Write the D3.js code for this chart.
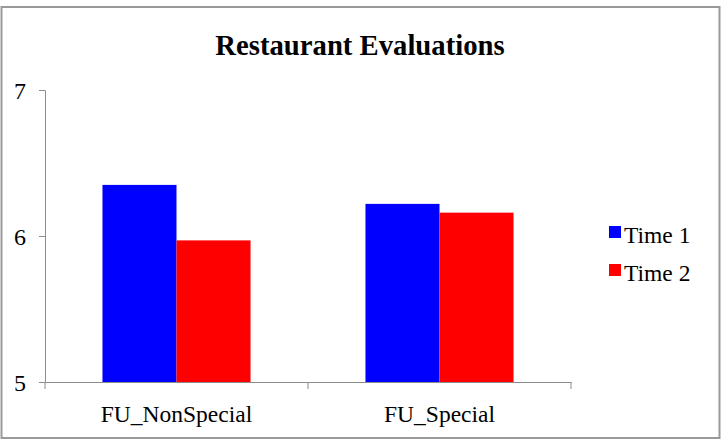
<!DOCTYPE html>
<html>
<head>
<meta charset="utf-8">
<script src="https://cdn.jsdelivr.net/npm/d3@7"></script>
<style>
  body { margin: 0; background: #fff; }
  svg text { font-family: "Liberation Serif", "Times New Roman", serif; fill: #000; }
</style>
</head>
<body>
<div id="chart"></div>
<script>
// chart data
const categories = ["FU_NonSpecial", "FU_Special"];
const seriesNames = ["Time 1", "Time 2"];
const time1 = [6.35, 6.22];
const time2 = [5.97, 6.16];
const yTicks = [5, 6, 7];
const colors = ["#0000ff", "#ff0000"];

const W = 728, H = 446;
const margin = { top: 90, left: 45, right: 157, bottom: 64 };
const width = W - margin.left - margin.right,
      height = H - margin.top - margin.bottom;
const grey = "#8c8c8c";

const svg = d3.select("#chart").append("svg")
  .attr("width", W)
  .attr("height", H);

// outer frame
svg.append("rect")
  .attr("x", 1.5).attr("y", 7)
  .attr("width", 718).attr("height", 431)
  .attr("fill", "none")
  .attr("stroke", "#999")
  .attr("stroke-width", 2);

svg.append("text")
  .attr("x", 360).attr("y", 55)
  .attr("text-anchor", "middle")
  .style("font-size", "28.7px")
  .style("font-weight", "bold")
  .text("Restaurant Evaluations");

const g = svg.append("g")
  .attr("transform", "translate(" + margin.left + "," + margin.top + ")");

const x0 = d3.scaleBand()
  .domain(categories)
  .range([0, width])
  .padding(0);

// bars take ~56% of each category band
const groupFrac = 0.563;
const x1 = d3.scaleBand()
  .domain(seriesNames)
  .range([0, x0.bandwidth() * groupFrac])
  .padding(0);

const y = d3.scaleLinear()
  .domain([5, 7])
  .range([height, 0]);

const rows = categories.map((c, i) => ({ cat: c, vals: [time1[i], time2[i]] }));

// bars
g.selectAll("g.cat")
  .data(rows)
  .enter().append("g")
  .attr("class", "cat")
  .attr("transform", d => "translate(" + (x0(d.cat) + x0.bandwidth() * (1 - groupFrac) / 2) + ",0)")
  .selectAll("rect")
  .data(d => d.vals.map((v, k) => ({ key: seriesNames[k], v: v, k: k })))
  .enter().append("rect")
  .attr("x", d => x1(d.key))
  .attr("width", x1.bandwidth())
  .attr("y", d => y(d.v))
  .attr("height", d => y(5) - y(d.v))
  .attr("fill", d => colors[d.k]);

// y axis
const yAxis = g.append("g")
  .call(d3.axisLeft(y).tickValues(yTicks).tickFormat(d3.format("d")).tickSize(6).tickSizeOuter(0));
yAxis.select(".domain").attr("stroke", grey);
yAxis.selectAll(".tick line").attr("stroke", grey);
yAxis.selectAll(".tick text")
  .style("font-family", "'Liberation Serif', serif")
  .style("font-size", "24px")
  .attr("x", -19)
  .attr("dy", "0.35em");

// x axis
const xAxis = g.append("g")
  .attr("transform", "translate(0," + height + ")")
  .call(d3.axisBottom(x0).tickSize(0).tickSizeOuter(0));
xAxis.select(".domain").attr("stroke", grey);
xAxis.selectAll(".tick text")
  .style("font-family", "'Liberation Serif', serif")
  .style("font-size", "23.5px")
  .attr("dy", 0)
  .attr("y", 40);

// category separators
const sepVals = [0].concat(categories.map(c => x0(c) + x0.bandwidth()));
xAxis.selectAll("line.sep")
  .data(sepVals)
  .enter().append("line")
  .attr("class", "sep")
  .attr("x1", d => d).attr("x2", d => d)
  .attr("y1", 0).attr("y2", 7)
  .attr("stroke", grey);

// legend
const legend = svg.append("g")
  .attr("transform", "translate(609,226)");
seriesNames.forEach((name, i) => {
  const row = legend.append("g").attr("transform", "translate(0," + (i * 38) + ")");
  row.append("rect")
    .attr("width", 12).attr("height", 12)
    .attr("fill", colors[i]);
  row.append("text")
    .attr("x", 15).attr("y", 17)
    .style("font-size", "23.5px")
    .text(name);
});
</script>
</body>
</html>
